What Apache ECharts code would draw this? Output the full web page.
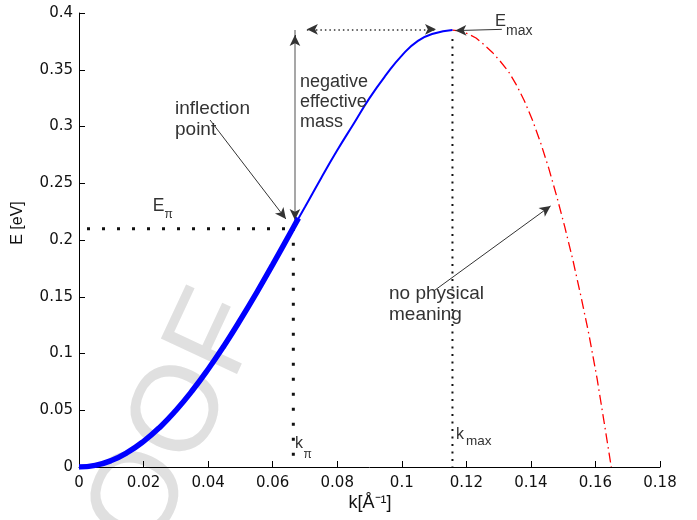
<!DOCTYPE html>
<html>
<head>
<meta charset="utf-8">
<script src="https://cdn.jsdelivr.net/npm/echarts@6/dist/echarts.min.js"></script>
<style>
html,body{margin:0;padding:0;background:#fff;}
#chart{width:697px;height:520px;}
</style>
</head>
<body>
<div id="chart"></div>
<script>
// ---- data ----
// thick blue part (0 .. inflection point)
const blueThickK = [0, 0.005, 0.01, 0.015, 0.02, 0.025, 0.03, 0.035, 0.04, 0.045, 0.05, 0.055, 0.06, 0.0664, 0.068];
const blueThickE = [0, 0.0014, 0.0057, 0.0128, 0.0226, 0.0349, 0.0498, 0.0669, 0.0861, 0.1071, 0.1297, 0.1535, 0.1783, 0.211, 0.2192];
// thin blue part (inflection .. maximum)
const blueThinK = [0.0664, 0.07, 0.075, 0.08, 0.085, 0.09, 0.095, 0.1, 0.105, 0.11, 0.1157];
const blueThinE = [0.211, 0.229, 0.2545, 0.279, 0.302, 0.325, 0.345, 0.3625, 0.3755, 0.382, 0.385];
// red dash-dot part (no physical meaning)
const redK = [0.1157, 0.118, 0.1205, 0.123, 0.1255, 0.128, 0.1305, 0.133, 0.1355, 0.138, 0.1405,
              0.143, 0.1455, 0.148, 0.1505, 0.153, 0.1555, 0.158, 0.1605, 0.163, 0.1649];
const redE = [0.385, 0.3843, 0.3817, 0.378, 0.372, 0.3655, 0.3575, 0.3487, 0.3367, 0.3225, 0.3055,
              0.2858, 0.2635, 0.2385, 0.2115, 0.1825, 0.1505, 0.1165, 0.078, 0.034, 0];
// characteristic points
const kPi = 0.0664, ePi = 0.21;
const kMax = 0.1157, eMax = 0.385;
// axis ranges / ticks
const xTicks = {min: 0, max: 0.18, interval: 0.02};
const yTicks = {min: 0, max: 0.4, interval: 0.05};

const zip = (a, b) => a.map((v, i) => [v, b[i]]);

const chart = echarts.init(document.getElementById('chart'), null, {renderer: 'canvas'});
const tickFont = 'DejaVu Sans';
const annFont = '"Liberation Sans", Arial, sans-serif';
const ann = '#333';

function txt(text, x, y, size, extra) {
  return Object.assign({
    type: 'text', x: x, y: y, z: 100, silent: true,
    style: {text: text, font: size + 'px ' + annFont, fill: ann, align: 'left', verticalAlign: 'middle'}
  }, extra || {});
}

const arrowLine = (a, b, color, width, sym) => [
  {coord: a, symbol: sym[0], lineStyle: {color: color, width: width, type: 'solid'}},
  {coord: b, symbol: sym[1]}
];

const option = {
  animation: false,
  grid: {left: 79, right: 37, top: 13, bottom: 53},
  xAxis: {
    type: 'value', min: xTicks.min, max: xTicks.max, interval: xTicks.interval,
    axisLine: {onZero: false, lineStyle: {color: '#000', width: 1}},
    axisTick: {inside: true, length: 6, lineStyle: {color: '#000'}},
    axisLabel: {color: '#111', fontFamily: tickFont, fontSize: 15, margin: 9},
    splitLine: {show: false}
  },
  yAxis: {
    type: 'value', min: yTicks.min, max: yTicks.max, interval: yTicks.interval,
    axisLine: {show: true, onZero: false, lineStyle: {color: '#000', width: 1}},
    axisTick: {show: true, inside: true, length: 6, lineStyle: {color: '#000'}},
    axisLabel: {color: '#111', fontFamily: tickFont, fontSize: 15, margin: 6},
    splitLine: {show: false}
  },
  series: [
    {type: 'line', data: zip(blueThickK, blueThickE), showSymbol: false, smooth: true, z: 5,
     lineStyle: {color: '#0000ff', width: 5.5, cap: 'butt'}},
    {type: 'line', data: zip(blueThinK, blueThinE), showSymbol: false, smooth: true, z: 5,
     lineStyle: {color: '#0000ff', width: 2}},
    {type: 'line', data: zip(redK, redE), showSymbol: false, smooth: false, z: 4,
     lineStyle: {color: '#ff0000', width: 1.3, type: [10, 4, 1.5, 4]},
     markLine: {
       silent: true, animation: false, symbolSize: [8, 11],
       label: {show: false}, emphasis: {disabled: true},
       data: [
         // inflection point arrow
         arrowLine([0.0406, 0.3057], [0.0641, 0.2185], ann, 1, ['none', 'arrow']),
         // gray vertical line (negative effective mass)
         arrowLine([0.0669, 0.2132], [0.0669, 0.385], '#8a8a8a', 1.5, ['none', 'none']),
         arrowLine([0.0669, 0.2247], [0.0669, 0.2176], ann, 1, ['none', 'arrow']),
         arrowLine([0.0669, 0.3736], [0.0669, 0.3806], ann, 1, ['none', 'arrow']),
         // E_max arrow
         arrowLine([0.1310, 0.3856], [0.1166, 0.3845], ann, 1, ['none', 'arrow']),
         // no physical meaning arrow
         arrowLine([0.1103, 0.1559], [0.1461, 0.2300], ann, 1, ['none', 'arrow']),
         // dotted double arrow
         [{coord: [0.0706, 0.3856], symbol: 'arrow', lineStyle: {color: ann, width: 1.5, type: [1.5, 3]}},
          {coord: [0.1106, 0.3856], symbol: 'arrow'}]
       ]
     }},
    // E_pi horizontal dotted
    {type: 'line', data: [[0, ePi], [kPi, ePi]], showSymbol: false, z: 3,
     lineStyle: {color: '#111', width: 3, type: [3, 12], dashOffset: 7, cap: 'butt'}},
    // k_pi vertical dotted
    {type: 'line', data: [[kPi, ePi], [kPi, 0]], showSymbol: false, z: 3,
     lineStyle: {color: '#111', width: 3, type: [3, 12], dashOffset: 1, cap: 'butt'}},
    // k_max vertical dotted
    {type: 'line', data: [[kMax, eMax - 0.008], [kMax, 0]], showSymbol: false, z: 3,
     lineStyle: {color: '#111', width: 2, type: [2, 5.5], cap: 'butt'}}
  ],
  graphic: [
    // watermark
    {type: 'text', x: 233.7, y: 301.2, rotation: 65 * Math.PI / 180, z: -1, silent: true,
     style: {text: 'PROOF', font: '122px "Liberation Sans", Arial, sans-serif', fill: '#e0e0e0',
             align: 'right', verticalAlign: 'middle'}},
    txt('inflection', 175, 108.7, 19),
    txt('point', 175, 129.7, 19),
    txt('negative', 300, 82.3, 18),
    txt('effective', 300, 102, 18),
    txt('mass', 300, 122, 18),
    txt('no physical', 389, 293.7, 19),
    txt('meaning', 389, 314.7, 19),
    txt('E', 152.7, 205.9, 17.5),
    txt('π', 164.5, 215, 12),
    txt('E', 495, 21.3, 16.5),
    txt('max', 506, 31.4, 14),
    txt('k', 295, 443.7, 16),
    txt('π', 303.5, 455, 12),
    txt('k', 456, 434.7, 16),
    txt('max', 466, 441, 13.5),
    // axis names
    {type: 'text', x: 370, y: 503, z: 100, silent: true,
     style: {text: 'k[Å⁻¹]', font: '18px "Liberation Sans", Arial, sans-serif', fill: '#111', align: 'center', verticalAlign: 'middle'}},
    {type: 'text', x: 18, y: 223, rotation: Math.PI / 2, z: 100, silent: true,
     style: {text: 'E [eV]', font: '16px "Liberation Sans", Arial, sans-serif', fill: '#111', align: 'center', verticalAlign: 'middle'}}
  ]
};
chart.setOption(option);
</script>
</body>
</html>
